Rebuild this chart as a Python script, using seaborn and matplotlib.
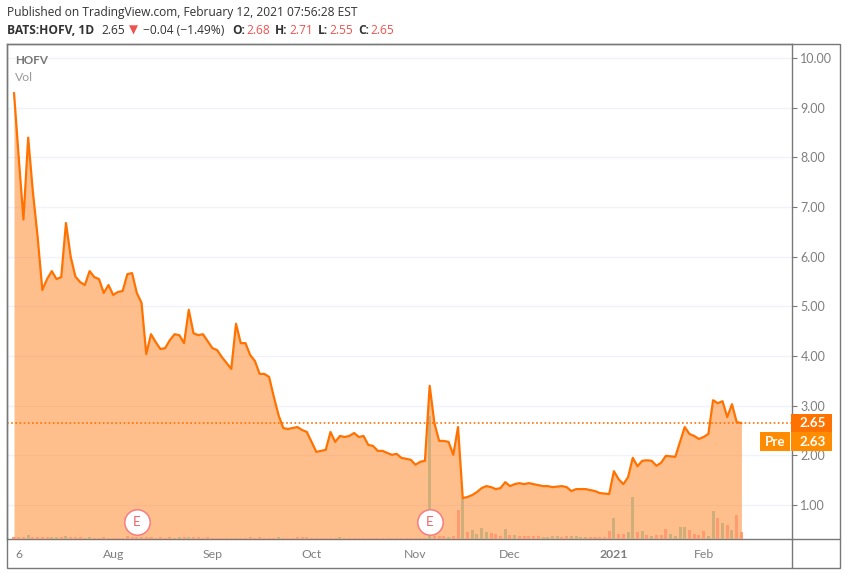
import matplotlib
matplotlib.use("Agg")
import matplotlib.pyplot as plt
import seaborn as sns
import pandas as pd
from matplotlib.patches import Rectangle
from matplotlib.lines import Line2D

close_prices = [
    9.30, 8.00, 6.75, 8.40, 7.30, 6.40, 5.33, 5.55, 5.71, 5.55,
    5.59, 6.68, 6.00, 5.60, 5.49, 5.43, 5.71, 5.59, 5.55, 5.27,
    5.43, 5.23, 5.29, 5.31, 5.65, 5.67, 5.27, 5.07, 4.04, 4.44,
    4.28, 4.14, 4.16, 4.32, 4.44, 4.42, 4.26, 4.93, 4.46, 4.42,
    4.44, 4.30, 4.16, 4.12, 3.98, 3.86, 3.74, 4.65, 4.26, 4.26,
    4.02, 3.90, 3.64, 3.64, 3.58, 3.18, 2.81, 2.55, 2.53, 2.55,
    2.57, 2.51, 2.47, 2.27, 2.07, 2.09, 2.11, 2.47, 2.27, 2.39,
    2.37, 2.39, 2.45, 2.37, 2.39, 2.21, 2.19, 2.09, 2.09, 2.05,
    2.01, 2.03, 1.95, 1.93, 1.91, 1.81, 1.87, 1.89, 3.40, 2.65,
    2.29, 2.29, 2.27, 2.01, 2.57, 1.14, 1.16, 1.20, 1.26, 1.34,
    1.38, 1.36, 1.32, 1.34, 1.46, 1.38, 1.42, 1.44, 1.42, 1.44,
    1.42, 1.40, 1.38, 1.38, 1.36, 1.37, 1.38, 1.36, 1.28, 1.32,
    1.32, 1.32, 1.30, 1.28, 1.24, 1.23, 1.22, 1.68, 1.52, 1.42,
    1.56, 1.95, 1.78, 1.89, 1.90, 1.89, 1.79, 1.85, 1.99, 1.98,
    1.97, 2.27, 2.57, 2.43, 2.39, 2.33, 2.37, 2.43, 3.11, 3.05,
    3.09, 2.77, 3.03, 2.67, 2.65,
]
volumes = [
    2, 2, 2, 4, 1.5, 2, 2, 2, 2, 2,
    1.5, 3, 1.5, 2, 1.5, 1, 1.5, 1, 1, 1.5,
    1, 1, 1, 1, 3, 1.5, 1.5, 1.5, 2, 1.5,
    1, 1.5, 1, 1.5, 1, 2, 2, 1.5, 2, 1.5,
    1, 1.5, 1, 1, 1, 1, 1, 1, 1, 1,
    1.5, 1, 1.5, 1, 1, 1, 2, 1, 1, 1,
    2, 2, 2, 1, 1, 1, 1, 1, 1, 2,
    1, 1, 1, 1, 1, 1, 1, 1, 1, 1,
    1, 1, 1, 1, 1, 1, 1, 1, 123, 3,
    3, 2.5, 2, 3, 29, 41, 7, 9, 5, 11,
    7, 6, 5, 3, 10, 4, 4, 3, 3, 3,
    3, 3, 2, 2, 3, 3, 2, 3, 3, 3,
    2, 2, 2, 2, 2, 2, 8, 21, 5, 5,
    7, 42, 7, 8, 4, 3, 4, 4, 10, 5,
    3, 12, 12, 9, 5, 4, 8, 3, 28, 21,
    16, 14, 9, 24, 7,
]
up_days = [3, 8, 9, 11, 16, 34, 35, 37, 47, 56, 69, 88, 92, 95, 97, 98, 99, 100,
           104, 106, 112, 113, 114, 115, 118, 119, 120, 121, 127, 130, 131, 133,
           135, 139, 140, 141, 142, 147, 148, 150, 152]
price_ticks = [1, 2, 3, 4, 5, 6, 7, 8, 9, 10]
date_ticks = [1, 21, 42, 63, 85, 105, 127, 146]
date_labels = ["6", "Aug", "Sep", "Oct", "Nov", "Dec", "2021", "Feb"]
earnings_days = [26, 88]
earnings_level = [0.65, 0.65]
last_close = 2.65
pre_price = 2.63

W, H = 846, 574
GRAY = "#787878"
TEXT = "#7f7f7f"
RED = "#EF5350"
DARK = "#333333"
LINE = "#FF7200"
FONT = "Lato"
HEAD = "Open Sans"

days = list(range(len(close_prices)))
df = pd.DataFrame({
    "day": days,
    "close": close_prices,
    "volume": volumes,
    "dir": ["up" if d in up_days else "down" for d in days],
})

sns.set_theme(style="white")
plt.rcParams["font.family"] = [FONT, "DejaVu Sans"]

fig = plt.figure(figsize=(W / 100, H / 100), dpi=100, facecolor="white")


def fx(x):
    return x / W


def fy(y):
    return 1 - y / H


ax = fig.add_axes([fx(6.5), fy(538.5), fx(791.5 - 6.5), (538.5 - 43.5) / H])
xlim = (-1.59, 164.6)
ylim = (0.325, 10.295)

# base layer: grid and area
ax.set_facecolor("white")
for p in price_ticks:
    ax.axhline(p, color="#F0F3FA", lw=1, zorder=1)
ax.fill_between(df["day"], df["close"], ylim[0], color="#FF7A10", alpha=0.48, lw=0, zorder=2)
ax.set_xlim(xlim)
ax.set_ylim(ylim)
ax.yaxis.tick_right()
ax.set_yticks(price_ticks, [f"{p:.2f}" for p in price_ticks])
ax.set_xticks(date_ticks, date_labels)
ax.tick_params(axis="y", length=3.4, width=0.8, color=GRAY, labelcolor=TEXT, labelsize=9, pad=3)
ax.tick_params(axis="x", length=2.4, width=0.8, color=GRAY, labelcolor=TEXT, labelsize=8.8, pad=5.2)
for lab in ax.get_xticklabels():
    if lab.get_text() == "2021":
        lab.set_fontweight("bold")
ax.set_xlabel("")
ax.set_ylabel("")
for s in ax.spines.values():
    s.set_color(GRAY)
    s.set_linewidth(1)
    s.set_visible(True)

# volume layer
ax_vol = fig.add_axes(ax.get_position(), facecolor="none")
sns.barplot(data=df, x="day", y="volume", hue="dir", native_scale=True, dodge=False,
            palette={"up": "#CFAE7A", "down": "#FF9B70"}, width=0.64, legend=False,
            ax=ax_vol, saturation=1, linewidth=0, zorder=3)
ax_vol.set_xlim(xlim)
ax_vol.set_ylim(0, 495)
ax_vol.axis("off")

# price layer
ax_line = fig.add_axes(ax.get_position(), facecolor="none")
sns.lineplot(data=df, x="day", y="close", color=LINE, lw=1.6, ax=ax_line, zorder=4)
ax_line.axhline(last_close, color=LINE, lw=1.2, ls=(0, (1, 1.5)), zorder=3)
ax_line.scatter(earnings_days, earnings_level, s=335, facecolor="white",
                edgecolor="#F77C80", linewidth=1.1, zorder=6)
for d, lv in zip(earnings_days, earnings_level):
    ax_line.text(d, lv, "E", color="#F0646A", fontsize=9.5, ha="center", va="center", zorder=7)
ax_line.set_xlim(xlim)
ax_line.set_ylim(ylim)
ax_line.axis("off")

# outer frame and the divider below the chart
fig.add_artist(Rectangle((fx(6.5), fy(567.5)), fx(839.5 - 6.5), (567.5 - 43.5) / H,
                         fill=False, edgecolor=GRAY, lw=1, transform=fig.transFigure))
fig.add_artist(Line2D([fx(791.5), fx(839.5)], [fy(538.5), fy(538.5)], color=GRAY, lw=1,
                      transform=fig.transFigure))
fig.add_artist(Line2D([fx(791.5), fx(791.5)], [fy(538.5), fy(567.5)], color=GRAY, lw=1,
                      transform=fig.transFigure))

# last-price labels
y_last = 423.3
y_pre = 441.7
fig.add_artist(Rectangle((fx(760), fy(451)), fx(30), 19 / H, facecolor="#FF8C00", lw=0,
                         transform=fig.transFigure))
fig.add_artist(Rectangle((fx(791), fy(451)), fx(41), 19 / H, facecolor="#FF8C00", lw=0,
                         transform=fig.transFigure))
fig.add_artist(Rectangle((fx(791), fy(432)), fx(41), 18 / H, facecolor="#FF7200", lw=0,
                         transform=fig.transFigure))
fig.text(fx(800), fy(y_last), f"{last_close:.2f}", color="white", fontsize=9.6, fontweight="bold", va="center")
fig.text(fx(800), fy(y_pre), f"{pre_price:.2f}", color="white", fontsize=9.6, fontweight="bold", va="center")
fig.text(fx(775), fy(y_pre), "Pre", color="white", fontsize=9.6, fontweight="bold", va="center", ha="center")

# pane legend
fig.text(fx(15), fy(60), "HOFV", color=GRAY, fontsize=8.4, fontweight="bold", va="center")
fig.text(fx(15), fy(77.5), "Vol", color="#9a9a9a", fontsize=8.8, va="center")

# header
head = {"fontsize": 8.65, "va": "center", "family": [HEAD, "DejaVu Sans"]}
fig.text(fx(6.5), fy(12.5), "Published on TradingView.com, February 12, 2021 07:56:28 EST", color=DARK, **head)
y2 = 30
fig.text(fx(6.5), fy(y2), "BATS:HOFV, 1D", color=DARK, fontweight="bold", **head)
fig.text(fx(101), fy(y2), "2.65", color=DARK, **head)
fig.text(fx(128.5), fy(y2), "\u25bc", color=RED, fontsize=8.5, va="center", family="DejaVu Sans")
fig.text(fx(143), fy(y2), "\u22120.04 (\u22121.49%)", color=DARK, **head)
for x_lab, lab, x_val, val in [(232, "O:", 246, "2.68"), (275, "H:", 289, "2.71"),
                               (318, "L:", 329, "2.55"), (358, "C:", 370, "2.65")]:
    fig.text(fx(x_lab), fy(y2), lab, color=DARK, fontweight="bold", **head)
    fig.text(fx(x_val), fy(y2), val, color=RED, **head)

fig.savefig("out.png", dpi=100, facecolor="white")
